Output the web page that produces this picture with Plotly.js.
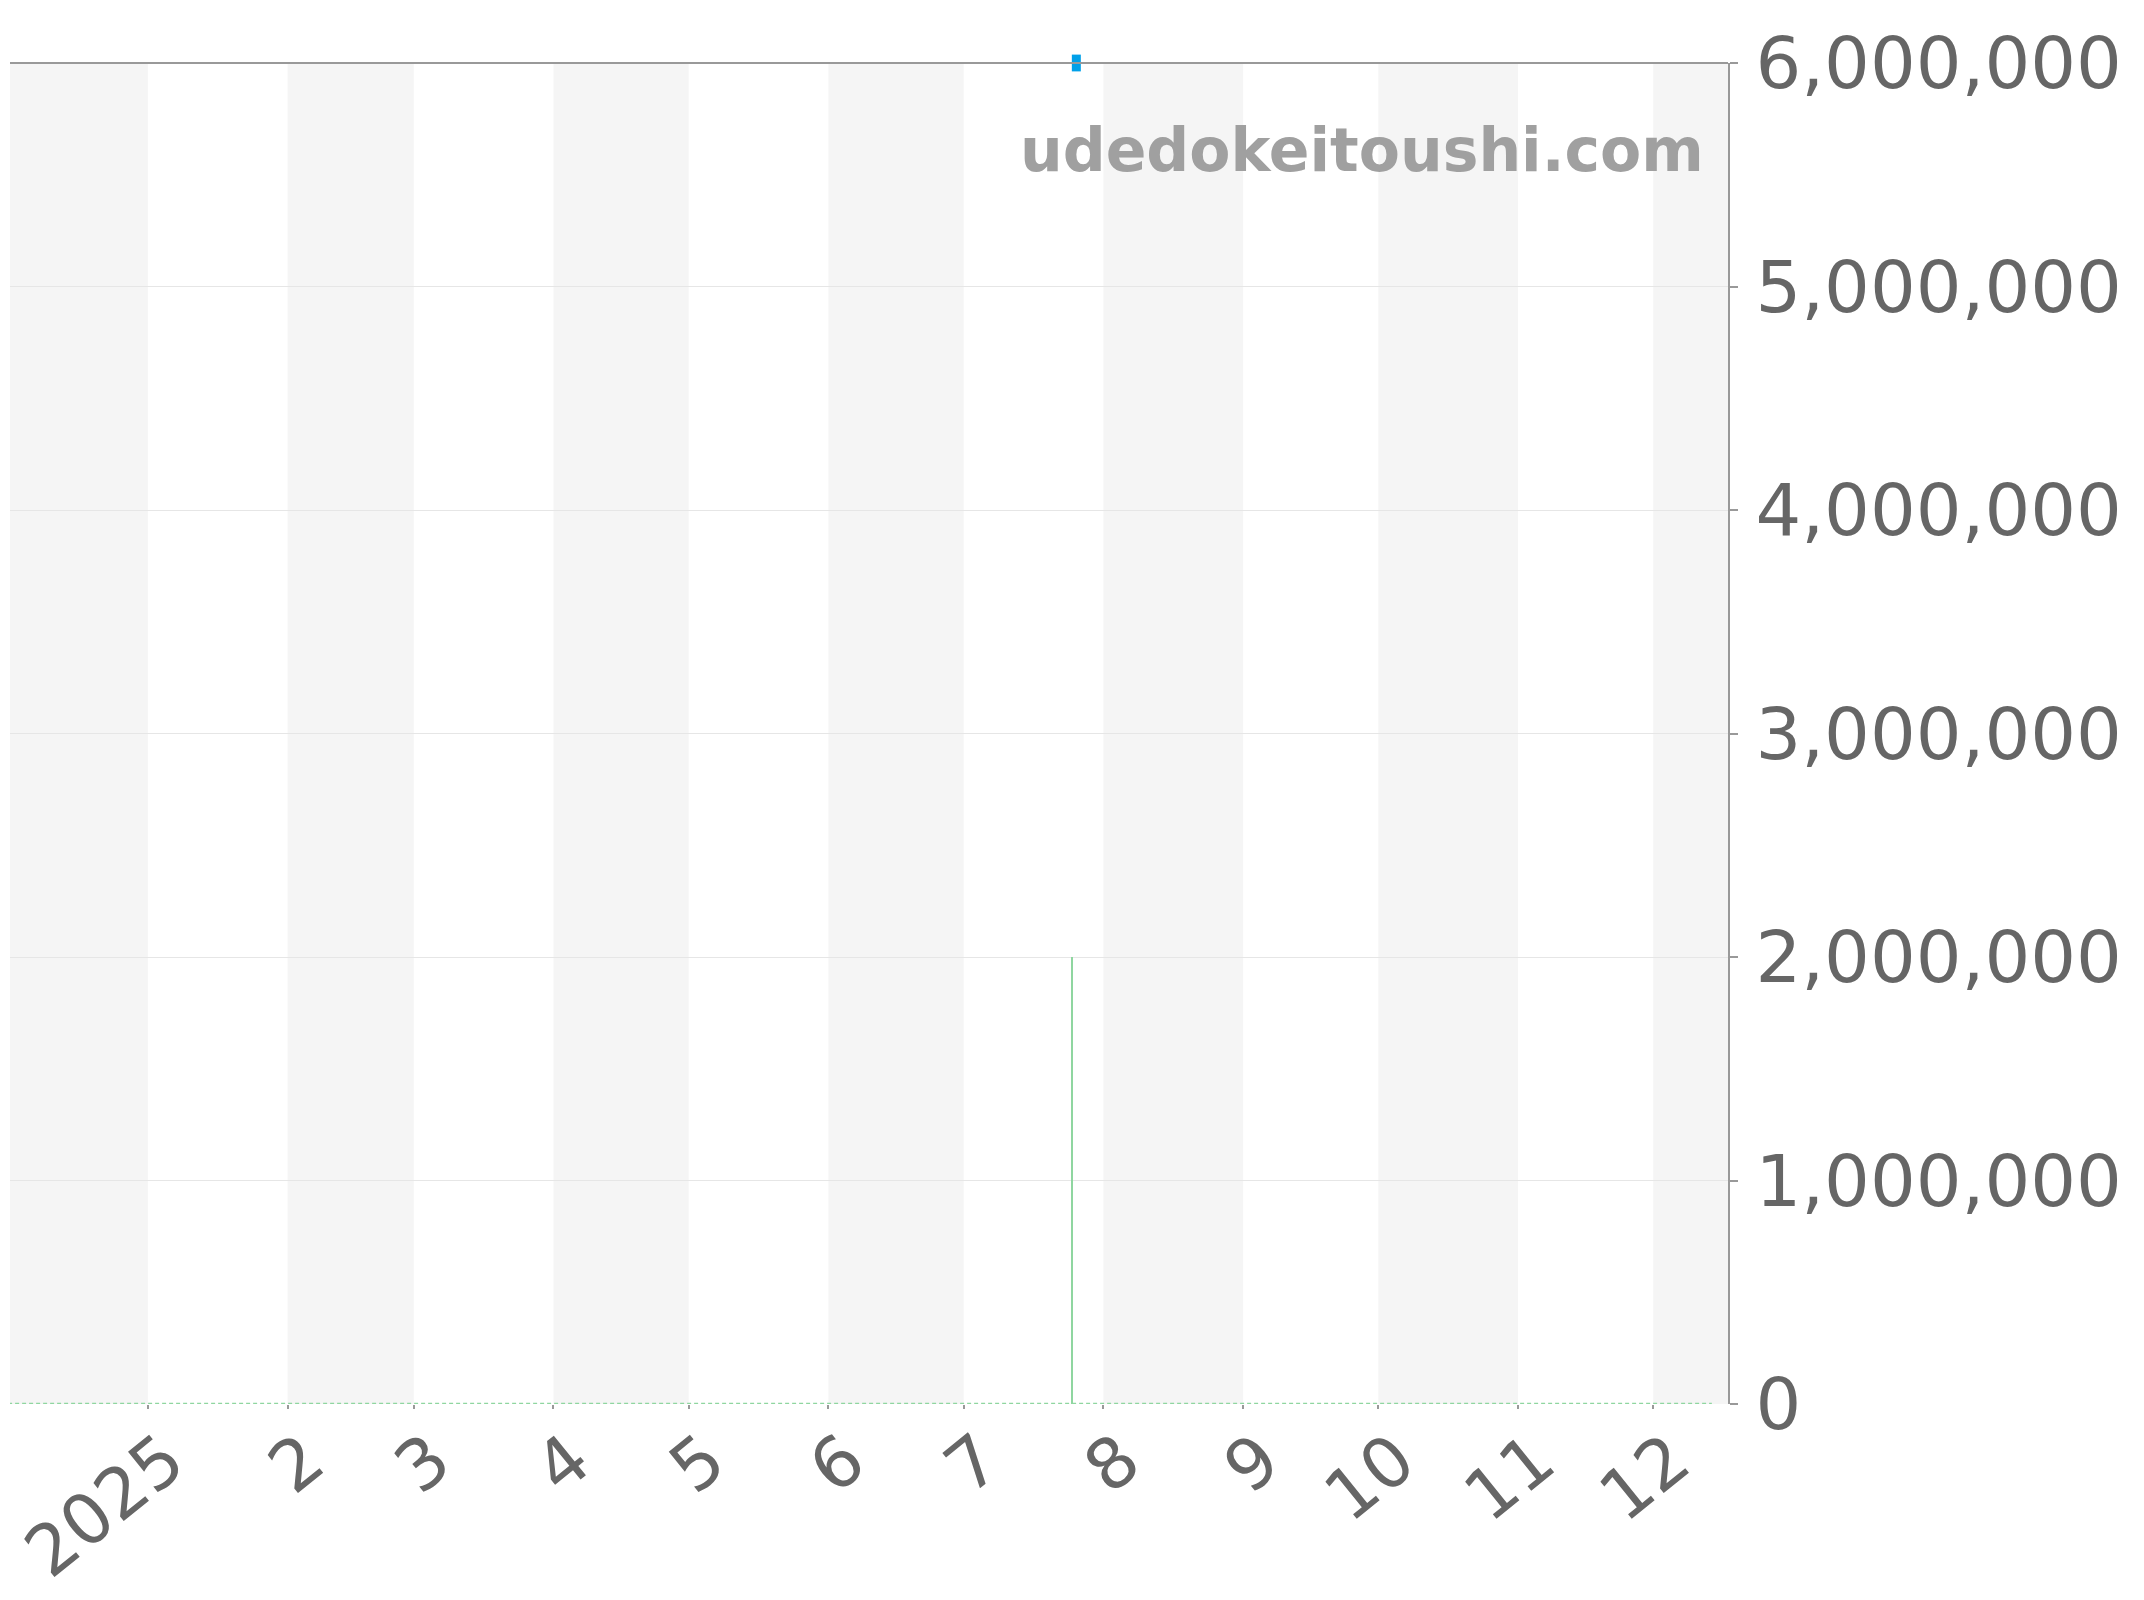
<!DOCTYPE html>
<html>
<head>
<meta charset="utf-8">
<script src="https://cdn.plot.ly/plotly-3.0.1.min.js"></script>
<style>
  html, body { margin: 0; padding: 0; background: #ffffff; }
  #chart { width: 2144px; height: 1600px; }
</style>
</head>
<body>
<div id="chart"></div>
<script>
// ---- data ----
const monthTicks = ['2025-01-01','2025-02-01','2025-03-01','2025-04-01','2025-05-01','2025-06-01',
                    '2025-07-01','2025-08-01','2025-09-01','2025-10-01','2025-11-01','2025-12-01'];
const monthLabels = ['2025','2','3','4','5','6','7','8','9','10','11','12'];
const shadeStarts = ['2024-12-01','2025-02-01','2025-04-01','2025-06-01','2025-08-01','2025-10-01','2025-12-01'];
const shadeEnds   = ['2025-01-01','2025-03-01','2025-05-01','2025-07-01','2025-09-01','2025-11-01','2026-01-01'];
const priceDates  = ['2025-07-26'];
const priceValues = [6000000];
const volumeDates  = ['2025-07-25'];
const volumeValues = [2000000];
const baseDates  = ['2024-12-01','2025-12-14'];
const baseValues = [0, 0];
const yTicks = [0, 1000000, 2000000, 3000000, 4000000, 5000000, 6000000];

// ---- traces ----
const DAY = 86400000;
const traces = [
  {
    type: 'scatter', mode: 'lines', x: baseDates, y: baseValues,
    line: { color: '#8fd6a0', width: 2.5, dash: '4px,3px' },
    hoverinfo: 'skip', cliponaxis: false
  },
  {
    type: 'bar', x: volumeDates, y: volumeValues,
    width: 0.55 * DAY,
    marker: { color: '#8fd6a0', line: { width: 0 } },
    hoverinfo: 'skip'
  },
  {
    type: 'scatter', mode: 'markers', x: priceDates, y: priceValues,
    marker: { symbol: 'line-ns', size: 12, color: '#00a0e9', line: { color: '#00a0e9', width: 9 } },
    cliponaxis: false, hoverinfo: 'skip'
  }
];

const shapes = shadeStarts.map((s, i) => ({
  type: 'rect', xref: 'x', yref: 'paper', x0: s, x1: shadeEnds[i], y0: 0, y1: 1,
  fillcolor: '#f5f5f5', line: { width: 0 }, layer: 'below'
}));
shapes.push({
  type: 'line', xref: 'paper', yref: 'paper', x0: 0, x1: 1, y0: 1, y1: 1,
  line: { color: '#999999', width: 2 }, layer: 'above'
});

const layout = {
  width: 2144, height: 1600,
  margin: { l: 10, r: 416, t: 63, b: 196, pad: 0 },
  paper_bgcolor: '#ffffff', plot_bgcolor: '#ffffff',
  font: { family: 'DejaVu Sans', color: '#666666', size: 72 },
  showlegend: false,
  bargap: 0,
  xaxis: {
    type: 'date',
    range: ['2024-12-01 10:00', '2025-12-17 14:00'],
    tickmode: 'array', tickvals: monthTicks, ticktext: monthLabels,
    tickangle: -39,
    ticks: 'outside', ticklen: 4, tickwidth: 2, tickcolor: '#999999',
    showgrid: false, zeroline: false, showline: false,
    tickfont: { family: 'DejaVu Sans', size: 70, color: '#666666' },
    ticklabeloverflow: 'allow',
    ticklabelstandoff: -17,
    ticklabelshift: 19,
    fixedrange: true
  },
  yaxis: {
    side: 'right',
    range: [0, 6000000],
    tickmode: 'array', tickvals: yTicks,
    tickformat: ',d',
    ticks: 'outside', ticklen: 8, tickwidth: 2, tickcolor: '#999999',
    showline: true, linecolor: '#999999', linewidth: 2,
    showgrid: true, gridcolor: '#e6e6e6', gridwidth: 1,
    zeroline: false,
    tickfont: { family: 'DejaVu Sans', size: 72, color: '#666666' },
    ticklabelstandoff: 3,
    fixedrange: true
  },
  shapes: shapes,
  annotations: [{
    xref: 'paper', yref: 'paper', x: 1, y: 0.935,
    xanchor: 'right', yanchor: 'middle', xshift: -22,
    text: 'udedokeitoushi.com', showarrow: false,
    font: { family: 'DejaVu Sans', size: 60, color: '#a0a0a0', weight: 'bold' }
  }]
};

Plotly.newPlot('chart', traces, layout, { staticPlot: true, displayModeBar: false });
</script>
</body>
</html>
